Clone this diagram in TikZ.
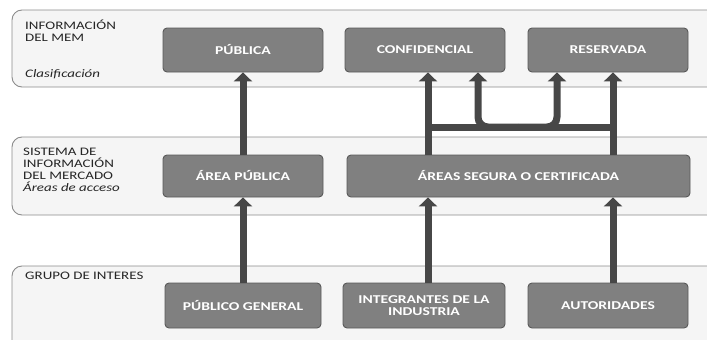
\documentclass[tikz,border=0pt]{standalone}
\usepackage{fontspec}
\setmainfont{Carlito}[FakeStretch=1.3]
\usetikzlibrary{arrows.meta}
\begin{document}
\begin{tikzpicture}[x=1pt,y=-1pt,
 band/.style={draw=black!45, line width=0.9pt, fill=black!4, rounded corners=10pt},
 box/.style={draw=black!65, fill=black!50, rounded corners=4pt, line width=0.9pt, text=white,
   font=\bfseries\fontsize{12}{11.5}\selectfont, align=center, inner sep=0pt},
 lbl/.style={anchor=north west, align=left, font=\fontsize{11.5}{11.8}\selectfont, inner sep=0pt, text=black!85},
 arr/.style={draw=black!72, line width=7pt, -{Triangle[width=18pt,length=9pt]}},
 bar/.style={draw=black!72, line width=7pt},
]
\useasboundingbox (0,0) rectangle (707,340);
\fill[white] (0,0) rectangle (707,340);
% bands
\draw[band] (12,10) rectangle (730,87);
\draw[band] (12,137) rectangle (730,215);
\draw[band] (12,266) rectangle (730,360);
% band labels
\node[lbl] (l1) at (25,20) {INFORMACIÓN\\DEL MEM};
\node[lbl] (l1b) at (25,69) {\itshape Clasificación};
\node[lbl] (l2) at (23,148) {SISTEMA DE\\INFORMACIÓN\\DEL MERCADO\\\itshape Áreas de acceso};
\node[lbl] (l3) at (25,272) {GRUPO DE INTERES};
% column coordinates
\coordinate (cA) at (428,0);
\coordinate (cB) at (478,0);
\coordinate (cC) at (557,0);
\coordinate (cD) at (613,0);
\coordinate (j) at (518,127);
% boxes
\node[box, minimum width=160pt, minimum height=44pt] (pub) at (243,50) {PÚBLICA};
\node[box, minimum width=160pt, minimum height=44pt] (conf) at (425,50) {CONFIDENCIAL};
\node[box, minimum width=160pt, minimum height=44pt] (res) at (608,50) {RESERVADA};
\node[box, minimum width=160pt, minimum height=42pt] (ap) at (243,176) {ÁREA PÚBLICA};
\node[box, minimum width=343pt, minimum height=42pt] (seg) at (518.5,176) {ÁREAS SEGURA O CERTIFICADA};
\node[box, minimum width=156pt, minimum height=45pt] (pg) at (243,305.5) {PÚBLICO GENERAL};
\node[box, minimum width=162pt, minimum height=45pt] (ind) at (424,305.5) {INTEGRANTES DE LA\\INDUSTRIA};
\node[box, minimum width=160pt, minimum height=45pt] (aut) at (608,305.5) {AUTORIDADES};
% connectors
\draw[arr] (pg.north) -- (ap.south);
\draw[arr] (ap.north) -- (pub.south);
\draw[arr] (ind.north -| cA) -- (seg.south -| cA);
\draw[arr] (aut.north -| cD) -- (seg.south -| cD);
\draw[arr] (seg.north -| cA) -- (conf.south -| cA);
\draw[arr] (seg.north -| cD) -- (res.south -| cD);
\draw[bar] (cA |- j) -- (cD |- j);
\draw[arr, rounded corners=10pt] (j) -| (conf.south -| cB);
\draw[arr, rounded corners=10pt] (j) -| (res.south -| cC);
\end{tikzpicture}
\end{document}
